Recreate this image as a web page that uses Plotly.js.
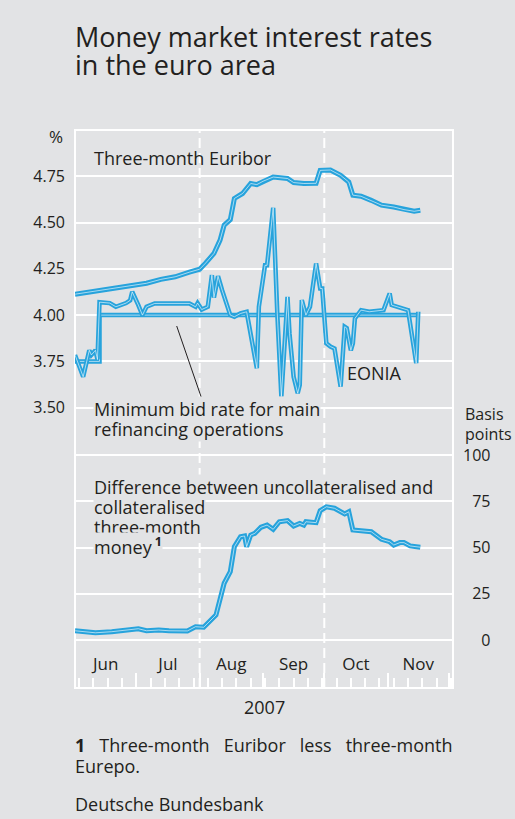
<!DOCTYPE html>
<html><head><meta charset="utf-8">
<script src="https://cdn.plot.ly/plotly-3.0.1.min.js"></script>
<style>html,body{margin:0;padding:0;background:#e2e3e5;} #chart{width:515px;height:819px;}</style>
</head><body><div id="chart"></div>
<script>
// ---- data ----
const euriborDates = ['2007-06-01','2007-06-08','2007-06-15','2007-06-22','2007-06-29','2007-07-06','2007-07-13','2007-07-20','2007-07-27','2007-08-01','2007-08-04','2007-08-08','2007-08-11','2007-08-13','2007-08-16','2007-08-18','2007-08-22','2007-08-26','2007-08-29','2007-09-01','2007-09-06','2007-09-13','2007-09-16','2007-09-21','2007-09-27','2007-09-29','2007-10-04','2007-10-09','2007-10-13','2007-10-15','2007-10-19','2007-10-24','2007-10-29','2007-11-04','2007-11-09','2007-11-14','2007-11-17'];
const euriborValues = [4.113,4.125,4.138,4.150,4.160,4.172,4.193,4.207,4.232,4.248,4.282,4.333,4.405,4.486,4.516,4.630,4.657,4.711,4.705,4.723,4.746,4.738,4.716,4.711,4.712,4.782,4.784,4.755,4.719,4.648,4.642,4.620,4.594,4.584,4.570,4.561,4.566];

const eoniaDates = ['2007-06-01','2007-06-05','2007-06-08','2007-06-09','2007-06-11','2007-06-12','2007-06-13','2007-06-18','2007-06-21','2007-06-26','2007-06-28','2007-06-29','2007-07-02','2007-07-04','2007-07-06','2007-07-10','2007-07-27','2007-07-30','2007-07-31','2007-08-02','2007-08-05','2007-08-07','2007-08-08','2007-08-10','2007-08-12','2007-08-16','2007-08-18','2007-08-21','2007-08-24','2007-08-29','2007-08-30','2007-08-31','2007-09-02','2007-09-03','2007-09-06','2007-09-08','2007-09-10','2007-09-13','2007-09-14','2007-09-16','2007-09-18','2007-09-19','2007-09-20','2007-09-22','2007-09-24','2007-09-27','2007-09-29','2007-09-30','2007-10-02','2007-10-04','2007-10-06','2007-10-09','2007-10-11','2007-10-12','2007-10-14','2007-10-15','2007-10-16','2007-10-19','2007-10-23','2007-10-30','2007-11-02','2007-11-03','2007-11-11','2007-11-15','2007-11-16'];
const eoniaValues = [3.785,3.667,3.810,3.785,3.810,3.760,4.070,4.065,4.045,4.065,4.080,4.126,4.054,4.000,4.045,4.063,4.063,4.045,4.065,4.030,4.045,4.216,4.095,4.210,4.135,4.000,3.991,4.009,4.018,3.713,4.045,4.117,4.269,4.269,4.580,4.009,3.560,4.099,3.900,3.667,3.578,3.623,4.081,4.000,4.045,4.279,4.144,4.144,3.848,3.830,3.820,3.614,3.937,3.930,3.810,3.848,3.982,4.027,4.018,4.027,4.117,4.054,4.027,3.740,4.018];

const bidRateDates = ['2007-06-01','2007-06-13','2007-11-16'];
const bidRateValues = [3.75, 4.00, 4.00];

const spreadDates = ['2007-06-01','2007-06-08','2007-06-11','2007-06-19','2007-07-02','2007-07-06','2007-07-12','2007-07-17','2007-07-26','2007-07-30','2007-08-03','2007-08-09','2007-08-13','2007-08-16','2007-08-18','2007-08-21','2007-08-23','2007-08-24','2007-08-26','2007-08-28','2007-08-31','2007-09-03','2007-09-06','2007-09-09','2007-09-13','2007-09-16','2007-09-19','2007-09-21','2007-09-22','2007-09-27','2007-09-29','2007-10-02','2007-10-06','2007-10-11','2007-10-13','2007-10-15','2007-10-22','2007-10-24','2007-10-29','2007-11-02','2007-11-04','2007-11-07','2007-11-09','2007-11-12','2007-11-17'];
const spreadValues = [5.0,4.5,3.9,4.5,6.1,5.0,5.4,5.0,4.9,7.2,6.9,13.5,30.7,37.0,50.5,55.9,56.3,50.5,56.8,57.7,61.0,62.2,59.9,64.0,64.6,61.7,63.1,62.2,64.0,63.5,70.0,72.1,71.3,68.2,69.4,59.5,59.1,58.6,54.5,53.2,51.4,52.7,52.7,50.9,50.2];

const rateTickVals = [3.5,3.75,4.0,4.25,4.5,4.75];
const rateTickText = ['3.50','3.75','4.00','4.25','4.50','4.75'];
const bpTickVals = [0,25,50,75,100];
const bpTickText = ['\u2007\u20070','\u200725','\u200750','\u200775','100'];
const xRange = ['2007-06-01','2007-12-03'];
const dividerDates = ['2007-08-01','2007-10-01'];

// ---- styles ----
const BG = '#e2e3e5';
const BLUE = '#27a3dc';
const TXT = '#231f20';
const FONT = 'Open Sans, sans-serif';

function cased(x, y, yaxis, shape, w) {
  return [
    {x: x, y: y, yaxis: yaxis, type: 'scatter', mode: 'lines', line: {color: BLUE, width: w || 5, shape: shape || 'linear'}, hoverinfo: 'skip'},
    {x: x, y: y, yaxis: yaxis, type: 'scatter', mode: 'lines', line: {color: 'rgba(255,255,255,0.6)', width: 1, shape: shape || 'linear'}, hoverinfo: 'skip'}
  ];
}

const data = [].concat(
  cased(bidRateDates, bidRateValues, 'y', 'hv', 4.5),
  cased(euriborDates, euriborValues, 'y'),
  cased(eoniaDates, eoniaValues, 'y', 'linear', 4.5),
  cased(spreadDates, spreadValues, 'y2')
);

// plot area in pixels: x 75..453, y 130..688
const PL = 75, PR = 453, PT = 130, PB = 688;
const px = v => (v - PL) / (PR - PL);
const py = v => (PB - v) / (PB - PT);

function note(text, x, y, opts) {
  return Object.assign({text: text, xref: 'paper', yref: 'paper', x: px(x), y: py(y), xanchor: 'left', yanchor: 'middle', showarrow: false, font: {family: FONT, size: 18, color: TXT}, borderpad: 0}, opts || {});
}

const split = py(431);
const NB = '\u00a0\u00a0\u00a0';
const annotations = [
  note('Money market interest rates', 74, 36, {font: {family: FONT, size: 27, color: TXT}}),
  note('in the euro area', 74, 65, {font: {family: FONT, size: 27, color: TXT}}),
  note('%', 56, 136, {xanchor: 'center', font: {family: FONT, size: 17, color: TXT}}),
  note('Three-month Euribor', 93, 158),
  note('EONIA', 346, 373),
  note('Minimum bid rate for main', 93, 409, {bgcolor: BG}),
  note('refinancing operations', 93, 429, {bgcolor: BG}),
  note('Basis', 464, 414, {font: {family: FONT, size: 16, color: TXT}}),
  note('points', 464, 434, {font: {family: FONT, size: 16, color: TXT}}),
  note('Difference between uncollateralised and', 93, 487, {bgcolor: BG}),
  note('collateralised', 93, 507, {bgcolor: BG}),
  note('three-month', 93, 527, {bgcolor: BG}),
  note('money\u2009<b><sup>1</sup></b>', 93, 546, {bgcolor: BG}),
  note('2007', 264, 707, {xanchor: 'center'}),
  note('<b>1</b>' + NB + 'Three-month' + NB + 'Euribor' + NB + 'less' + NB + 'three-month', 74, 745),
  note('Eurepo.', 74, 766),
  note('Deutsche Bundesbank', 74, 804)
];

const shapes = [
  {type: 'rect', xref: 'paper', yref: 'paper', x0: 0, x1: 1, y0: 0, y1: 1, line: {color: 'white', width: 2}, layer: 'below'},
  {type: 'line', xref: 'paper', yref: 'paper', x0: px(176.7), y0: py(326), x1: px(201.7), y1: py(398.5), line: {color: TXT, width: 1}}
].concat(dividerDates.map(d => ({type: 'line', xref: 'x', yref: 'paper', x0: d, x1: d, y0: 0, y1: 1, line: {color: 'white', width: 2, dash: '10px,5px'}, layer: 'below'})));

const layout = {
  width: 515, height: 819,
  margin: {l: PL, r: 515 - PR, t: PT, b: 819 - PB, pad: 0},
  paper_bgcolor: BG, plot_bgcolor: BG,
  showlegend: false,
  font: {family: FONT, color: TXT, size: 17},
  xaxis: {
    type: 'date', range: xRange, anchor: 'y2',
    tick0: '2007-06-01', dtick: 'M1', tickformat: '%b', ticklabelmode: 'period',
    ticks: 'inside', ticklen: 15, tickwidth: 2, tickcolor: 'white',
    ticklabelposition: 'inside', tickfont: {family: FONT, size: 17, color: TXT},
    minor: {tick0: '2007-06-03', dtick: 7 * 86400000, ticks: 'inside', ticklen: 10, tickwidth: 2, tickcolor: 'white', showgrid: false},
    showgrid: false, zeroline: false, showline: false, fixedrange: true
  },
  yaxis: {
    domain: [split, 1], range: [3.374, 5.0], anchor: 'x',
    tickmode: 'array', tickvals: rateTickVals, ticktext: rateTickText,
    ticks: '', ticklabelstandoff: 9, tickfont: {family: FONT, size: 16, color: TXT},
    showgrid: true, gridcolor: 'white', gridwidth: 2, zeroline: false, showline: false
  },
  yaxis2: {
    domain: [0, split], range: [-25.97, 113.1], anchor: 'x', side: 'right',
    tickmode: 'array', tickvals: bpTickVals, ticktext: bpTickText,
    ticks: '', ticklabelstandoff: 9, tickfont: {family: FONT, size: 16, color: TXT},
    showgrid: true, gridcolor: 'white', gridwidth: 2, zeroline: false, showline: false
  },
  shapes: shapes,
  annotations: annotations
};

Plotly.newPlot('chart', data, layout, {staticPlot: true, displayModeBar: false});
</script>
</body></html>
